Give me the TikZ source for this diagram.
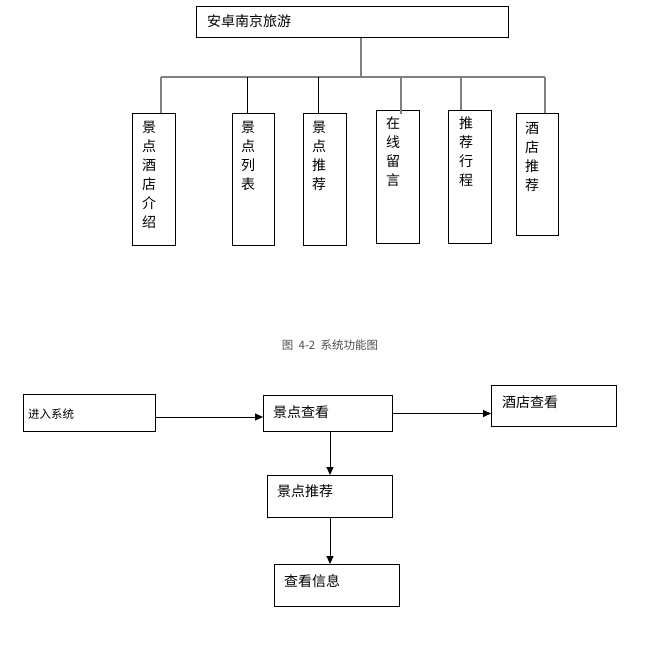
\documentclass[tikz,border=0pt]{standalone}
\usepackage{fontspec}
\newfontfamily\cjk{Noto Sans CJK SC}
\usetikzlibrary{arrows.meta}
\begin{document}
\begin{tikzpicture}[x=1pt,y=-1pt,
  box/.style={draw, line width=1pt, anchor=north west, inner sep=0},
  txt/.style={inner sep=0, anchor=west, font=\cjk\fontsize{14}{17}\selectfont},
  vtxt/.style={inner sep=0, anchor=north, align=center, font=\cjk\fontsize{14}{19}\selectfont},
  tree/.style={draw=gray, line width=1.2pt},
  treeb/.style={draw=black, line width=1pt},
  arr/.style={line width=1pt, -{Triangle[length=8pt,width=7pt]}}]
\useasboundingbox (0,0) rectangle (649,646);
% system function tree
\node[box, minimum width=312, minimum height=31] (top) at (196,6){};
\node[txt] (ttop) at (207,21.5){安卓南京旅游};
\node[box, minimum width=43, minimum height=132] (f1) at (132,113){};
\node[vtxt] (tf1) at (149,121){景\\点\\酒\\店\\介\\绍};
\node[box, minimum width=42, minimum height=132] (f2) at (232,113){};
\node[vtxt] (tf2) at (248,121){景\\点\\列\\表};
\node[box, minimum width=43, minimum height=132] (f3) at (303,113){};
\node[vtxt] (tf3) at (319,121){景\\点\\推\\荐};
\node[box, minimum width=43, minimum height=133] (f4) at (376,110){};
\node[vtxt] (tf4) at (393,117){在\\线\\留\\言};
\node[box, minimum width=43, minimum height=133] (f5) at (448,110){};
\node[vtxt] (tf5) at (466,117){推\\荐\\行\\程};
\node[box, minimum width=42, minimum height=122] (f6) at (516,113){};
\node[vtxt] (tf6) at (532,122){酒\\店\\推\\荐};
\coordinate (bus) at (361,77);
\coordinate (b1) at (161,77);
\coordinate (b2) at (247,77);
\coordinate (b3) at (318,77);
\coordinate (b4) at (401,77);
\coordinate (b5) at (461,77);
\coordinate (b6) at (545,77);
\draw[tree] (bus |- top.south) -- (bus);
\draw[tree] (b1) -- (b6);
\draw[tree] (b1) -- (b1 |- f1.north);
\draw[treeb] (b2) -- (b2 |- f2.north);
\draw[treeb] (b3) -- (b3 |- f3.north);
\draw[tree] (b4) -- ([yshift=-4pt]b4 |- f4.north);
\draw[tree] (b5) -- (b5 |- f5.north);
\draw[tree] (b6) -- (b6 |- f6.north);
\node[inner sep=0, text=black!70, font=\cjk\fontsize{11.5}{13}\selectfont] (cap) at (330,345){图\ \ 4-2\ \ 系统功能图};
% flow
\node[box, minimum width=132, minimum height=37] (s1) at (23,394){};
\node[txt, font=\cjk\fontsize{11.5}{14}\selectfont] (ts1) at (28,414){进入系统};
\node[box, minimum width=129, minimum height=36] (s2) at (263,395){};
\node[txt] (ts2) at (273,412){景点查看};
\node[box, minimum width=125, minimum height=41] (s3) at (491,385){};
\node[txt] (ts3) at (502,402){酒店查看};
\node[box, minimum width=125, minimum height=42] (s4) at (267,475){};
\node[txt] (ts4) at (277,491){景点推荐};
\node[box, minimum width=125, minimum height=42] (s5) at (274,564){};
\node[txt] (ts5) at (284,581){查看信息};
\draw[arr] ([yshift=-4pt]s1.east) -- ([yshift=-4pt]s1.east -| s2.west);
\draw[arr] (s2.east) -- (s2.east -| s3.west);
\draw[arr] (s4.north |- s2.south) -- (s4.north);
\draw[arr] (s4.south) -- (s4.south |- s5.north);
\end{tikzpicture}
\end{document}
